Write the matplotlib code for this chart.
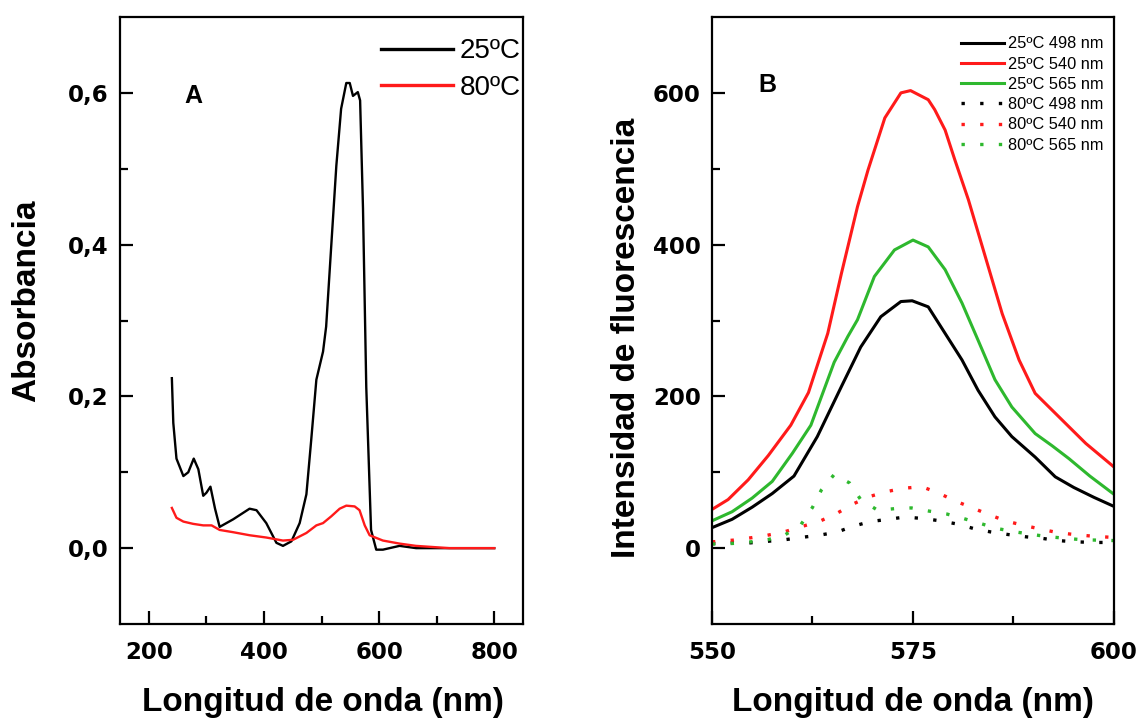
import matplotlib
matplotlib.use('Agg')
import matplotlib.pyplot as plt
from matplotlib.ticker import FixedLocator, FuncFormatter

# ---------------- Panel A: absorbance spectra ----------------
wl_a25 = [240, 242.5, 248, 260, 268.5, 278, 286, 294.5, 300, 307, 315, 323, 346.5, 375, 387,
          404, 421.6, 433, 447.7, 462, 473.7, 482, 491, 502.6, 508, 517, 525.7, 534, 543, 549,
          554.6, 563, 567, 572, 577.7, 586, 595, 606.6, 635.5, 664.4, 722, 800]
abs_a25 = [0.224, 0.165, 0.118, 0.095, 0.100, 0.118, 0.104, 0.069, 0.073, 0.081, 0.052, 0.028,
           0.038, 0.052, 0.050, 0.033, 0.007, 0.003, 0.009, 0.033, 0.071, 0.142, 0.222, 0.259,
           0.292, 0.400, 0.504, 0.579, 0.613, 0.613, 0.596, 0.601, 0.590, 0.448, 0.212, 0.024,
           -0.002, -0.002, 0.003, 0.0, 0.0, 0.0]
wl_a80 = [240, 248, 260, 277, 294.5, 309, 323, 346.5, 375, 404, 433, 450.5, 473.7, 491, 502.6,
          517, 531.5, 543, 557.5, 566, 575, 583.5, 606.6, 635.5, 664, 722, 800]
abs_a80 = [0.053, 0.040, 0.035, 0.032, 0.030, 0.030, 0.024, 0.021, 0.017, 0.014, 0.010, 0.011,
           0.020, 0.030, 0.033, 0.042, 0.052, 0.056, 0.055, 0.050, 0.030, 0.017, 0.010, 0.006,
           0.003, 0.0, 0.0]
legend_a = ["25ºC", "80ºC"]

# ---------------- Panel B: fluorescence spectra ----------------
wl_b25_498 = [550, 552.5, 555, 557.5, 560.2, 563.1, 566.1, 568.5, 571, 573.5, 574.9, 576.9, 579,
              581.1, 583.1, 585.2, 587.3, 590.2, 592.7, 595, 597.5, 600]
fl_b25_498 = [27, 38, 54, 72, 95, 147, 213, 265, 305, 325, 326, 318, 283, 248, 208, 173, 147,
              120, 94, 80, 67, 55]
wl_b25_540 = [550, 552, 554.5, 557, 559.8, 562, 564.4, 566.1, 568.1, 569.4, 571.5, 573.5, 574.7,
              576.9, 577.7, 579, 580.2, 581.9, 584, 586.1, 588.2, 590.2, 592.3, 596.5, 600]
fl_b25_540 = [51, 64, 90, 122, 162, 205, 283, 362, 450, 498, 567, 600, 603, 591, 578, 551, 512,
              459, 384, 309, 248, 204, 182, 138, 107]
wl_b25_565 = [550, 552.5, 555, 557.5, 560, 562.3, 565.2, 566.9, 568.1, 570.2, 572.7, 575, 576.9,
              579, 581.1, 583.1, 585.2, 587.3, 590.2, 592.3, 594.4, 597, 600]
fl_b25_565 = [36, 48, 66, 88, 125, 162, 245, 279, 301, 358, 393, 406, 397, 367, 323, 274, 222,
              186, 151, 135, 118, 95, 71]

wl_b80_498 = [550, 552.6, 554.8, 556.9, 559, 561, 563.3, 565.5, 567.6, 569.7, 571.9, 574, 576.3,
              578.4, 580.4, 582.5, 584.6, 586.8, 589, 591, 593, 595.3, 597.4, 600]
fl_b80_498 = [6, 7, 7, 9, 11, 14, 17, 21, 29, 35, 38, 41, 39, 36, 32, 26, 21.5, 18, 15, 13, 10,
              8.3, 7.5, 7.5]
wl_b80_540 = [550, 552.6, 554.8, 556.9, 559, 561, 563.3, 565.4, 567.5, 569.6, 571.7, 573.9, 576.1,
              578.1, 580.3, 582.4, 584.5, 586.6, 588.8, 590.9, 593, 595, 597.1, 600]
fl_b80_540 = [8.3, 10.5, 13.6, 17, 21.5, 28, 35, 45, 58, 68, 74.5, 79, 81, 73, 62, 53, 44, 35.6,
              30, 25, 20.5, 18, 16, 14]
wl_b80_565 = [550, 552.6, 554.8, 556.9, 559, 561, 562.5, 563.6, 565.2, 567.1, 568.5, 570.6, 572.7,
              574.8, 576.9, 579.2, 581.3, 583.4, 585.4, 587.7, 589.8, 591.9, 594, 596.1, 598.2, 600]
fl_b80_565 = [5.4, 6.2, 8.3, 11, 17, 30, 53.7, 76.5, 97, 86, 64, 50, 52, 53, 49, 45, 39, 32.5,
              26, 21.5, 18, 15, 13, 11, 10.5, 10]
legend_b = ["25ºC 498 nm", "25ºC 540 nm", "25ºC 565 nm",
            "80ºC 498 nm", "80ºC 540 nm", "80ºC 565 nm"]

RED = '#ff1a1a'
GREEN = '#2eb82e'
BLACK = '#000000'

LABEL_FONT = dict(family='Liberation Sans', weight='bold', size=24)
TICK_FONT = dict(family='DejaVu Sans', weight='bold', size=16.5)

fig = plt.figure(figsize=(11.39, 7.2), dpi=100)
fig.patch.set_facecolor('white')
axA = fig.add_axes([0.1054, 0.1333, 0.3538, 0.8431])
axB = fig.add_axes([0.6251, 0.1333, 0.3529, 0.8431])


def style_axis(ax):
    for sp in ax.spines.values():
        sp.set_linewidth(1.6)
    ax.tick_params(which='both', direction='in', width=1.6, top=False, right=False)
    ax.tick_params(which='major', length=9.5)
    ax.tick_params(which='minor', length=5.5)
    ax.tick_params(axis='x', which='major', pad=12)
    ax.tick_params(axis='y', which='major', pad=8)
    for lab in ax.get_xticklabels() + ax.get_yticklabels():
        lab.set_fontfamily(TICK_FONT['family'])
        lab.set_fontweight(TICK_FONT['weight'])
        lab.set_fontsize(TICK_FONT['size'])


# ---- Panel A ----
axA.plot(wl_a25, abs_a25, color=BLACK, lw=1.7, label=legend_a[0])
axA.plot(wl_a80, abs_a80, color=RED, lw=1.7, label=legend_a[1])
axA.set_xlim(150, 850)
axA.set_ylim(-0.1, 0.7)
axA.xaxis.set_major_locator(FixedLocator([200, 400, 600, 800]))
axA.xaxis.set_minor_locator(FixedLocator([300, 500, 700]))
axA.yaxis.set_major_locator(FixedLocator([0.0, 0.2, 0.4, 0.6]))
axA.yaxis.set_minor_locator(FixedLocator([0.1, 0.3, 0.5]))
axA.yaxis.set_major_formatter(FuncFormatter(lambda v, p: f"{v:.1f}".replace('.', ',')))
style_axis(axA)
axA.set_xlabel("Longitud de onda (nm)", **LABEL_FONT)
axA.set_ylabel("Absorbancia", **LABEL_FONT)
axA.xaxis.set_label_coords(0.504, -0.103)
axA.yaxis.set_label_coords(-0.194, 0.532)
axA.text(276.6, 0.586, "A", ha='center', va='baseline', family='Liberation Sans',
         weight='bold', size=18)
legA = axA.legend(loc='upper right', bbox_to_anchor=(0.995, 0.965), frameon=False,
                  prop=dict(family='Liberation Sans', size=20), handlelength=2.6,
                  handletextpad=0.25, labelspacing=0.38, borderaxespad=0, borderpad=0)
for h in legA.get_lines():
    h.set_linewidth(2.4)

# ---- Panel B ----
solid_lw = 2.2
axB.plot(wl_b25_498, fl_b25_498, color=BLACK, lw=solid_lw, label=legend_b[0])
axB.plot(wl_b25_540, fl_b25_540, color=RED, lw=solid_lw, label=legend_b[1])
axB.plot(wl_b25_565, fl_b25_565, color=GREEN, lw=solid_lw, label=legend_b[2])
dot = (0, (1.0, 4.6))
axB.plot(wl_b80_498, fl_b80_498, color=BLACK, lw=2.4, ls=dot, label=legend_b[3])
axB.plot(wl_b80_540, fl_b80_540, color=RED, lw=2.4, ls=dot, label=legend_b[4])
axB.plot(wl_b80_565, fl_b80_565, color=GREEN, lw=2.4, ls=dot, label=legend_b[5])
axB.set_xlim(550, 600)
axB.set_ylim(-100, 700)
axB.xaxis.set_major_locator(FixedLocator([550, 575, 600]))
axB.xaxis.set_minor_locator(FixedLocator([562.5, 587.5]))
axB.yaxis.set_major_locator(FixedLocator([0, 200, 400, 600]))
axB.yaxis.set_minor_locator(FixedLocator([100, 300, 500]))
style_axis(axB)
axB.set_xlabel("Longitud de onda (nm)", **LABEL_FONT)
axB.set_ylabel("Intensidad de fluorescencia", **LABEL_FONT)
axB.xaxis.set_label_coords(0.5, -0.103)
axB.yaxis.set_label_coords(-0.174, 0.472)
axB.text(556.9, 601.7, "B", ha='center', va='baseline', family='Liberation Sans',
         weight='bold', size=18)
legB = axB.legend(loc='upper right', bbox_to_anchor=(0.975, 0.968), frameon=False,
                  prop=dict(family='Liberation Sans', size=11.8), handlelength=2.65,
                  handletextpad=0.25, labelspacing=0.32, borderaxespad=0, borderpad=0)

fig.savefig('out.png', dpi=100, facecolor='white')
